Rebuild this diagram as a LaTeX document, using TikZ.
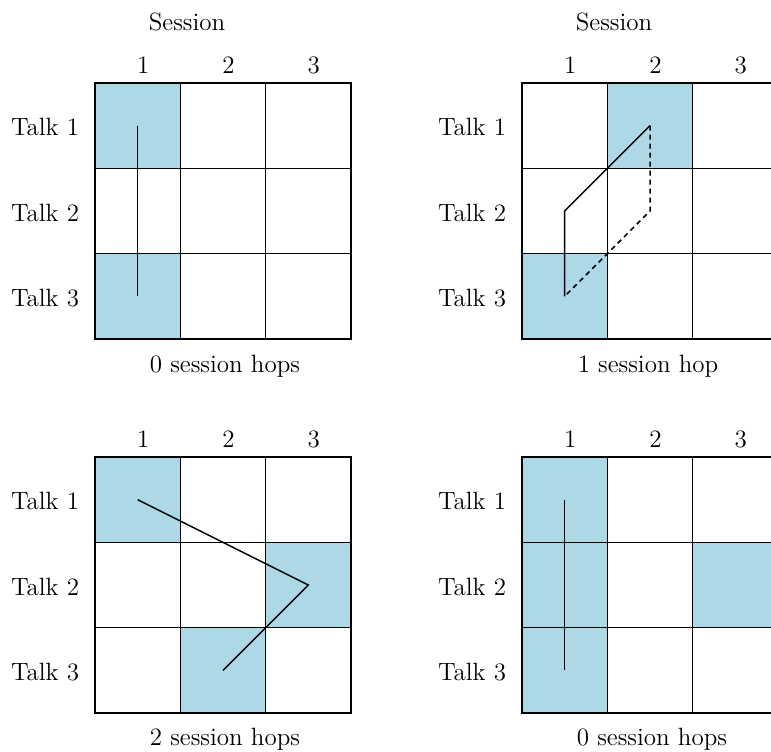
\documentclass[tikz,border=0pt]{standalone}
\usetikzlibrary{backgrounds}
\definecolor{lightblue}{RGB}{173,216,230}
\tikzset{
  cellbox/.style={draw, line width=0.75pt, minimum size=42.67pt, inner sep=0pt, outer sep=0pt},
  lab/.style={font=\fontsize{12.5}{15}\selectfont, inner sep=0pt},
  route/.style={line width=0.75pt},
  altroute/.style={line width=0.75pt, dash pattern=on 2.5pt off 2pt},
  hit/.style={fill=lightblue}
}
% #1 name, #2 left edge, #3 top edge (one cell is 85.333 units wide)
\newcommand\talkgrid[3]{%
  \foreach \r in {1,2,3}{
    \foreach \c in {1,2,3}{
      \node[cellbox] (#1-\r-\c) at ({#2+(\c-0.5)*85.333},{#3+(\r-0.5)*85.333}) {};
    }
    \node[lab] (#1-row\r) at ({#2-50},{#3+(\r-0.5)*85.333+1.5}) {Talk \r};
    \node[lab] (#1-col\r) at ({#2+(\r-0.5)*85.333+5.5},{#3-18}) {\r};
  }%
}
\newcommand\hitcell[1]{%
  \begin{scope}[on background layer]
    \fill[hit] (#1.north west) rectangle (#1.south east);
  \end{scope}%
}
\begin{document}
\begin{tikzpicture}[x=0.5pt,y=-0.5pt]
  \useasboundingbox (0,0) rectangle (771,751);
  \clip (0,0) rectangle (771,751);

  % top left: one session, no hops
  \talkgrid{a}{95}{83}
  \hitcell{a-1-1}\hitcell{a-3-1}
  \node[lab] (a-title) at (187,22) {Session};
  \node[lab, anchor=base] (a-caption) at (225,372) {0 session hops};
  \draw[route] (a-1-1.center) -- (a-3-1.center);

  % top right: one hop, two alternative routes
  \talkgrid{b}{522}{83}
  \hitcell{b-1-2}\hitcell{b-3-1}
  \node[lab] (b-title) at (614,22) {Session};
  \node[lab, anchor=base] (b-caption) at (648,372) {1 session hop};
  \draw[route] (b-1-2.center) -- (b-1-2.south west) -- (b-2-1.center) -- (b-3-1.center);
  \draw[altroute] (b-1-2.center) -- (b-2-2.center) -- (b-3-1.north east) -- (b-3-1.center);

  % bottom left: two hops
  \talkgrid{c}{95}{457}
  \hitcell{c-1-1}\hitcell{c-2-3}\hitcell{c-3-2}
  \node[lab, anchor=base] (c-caption) at (225,745) {2 session hops};
  \draw[route] (c-1-1.center) -- (c-2-3.center) -- (c-3-2.center);

  % bottom right: no hops
  \talkgrid{d}{522}{457}
  \hitcell{d-1-1}\hitcell{d-2-1}\hitcell{d-3-1}\hitcell{d-2-3}
  \node[lab, anchor=base] (d-caption) at (652,745) {0 session hops};
  \draw[route] (d-1-1.center) -- (d-3-1.center);
\end{tikzpicture}
\end{document}
